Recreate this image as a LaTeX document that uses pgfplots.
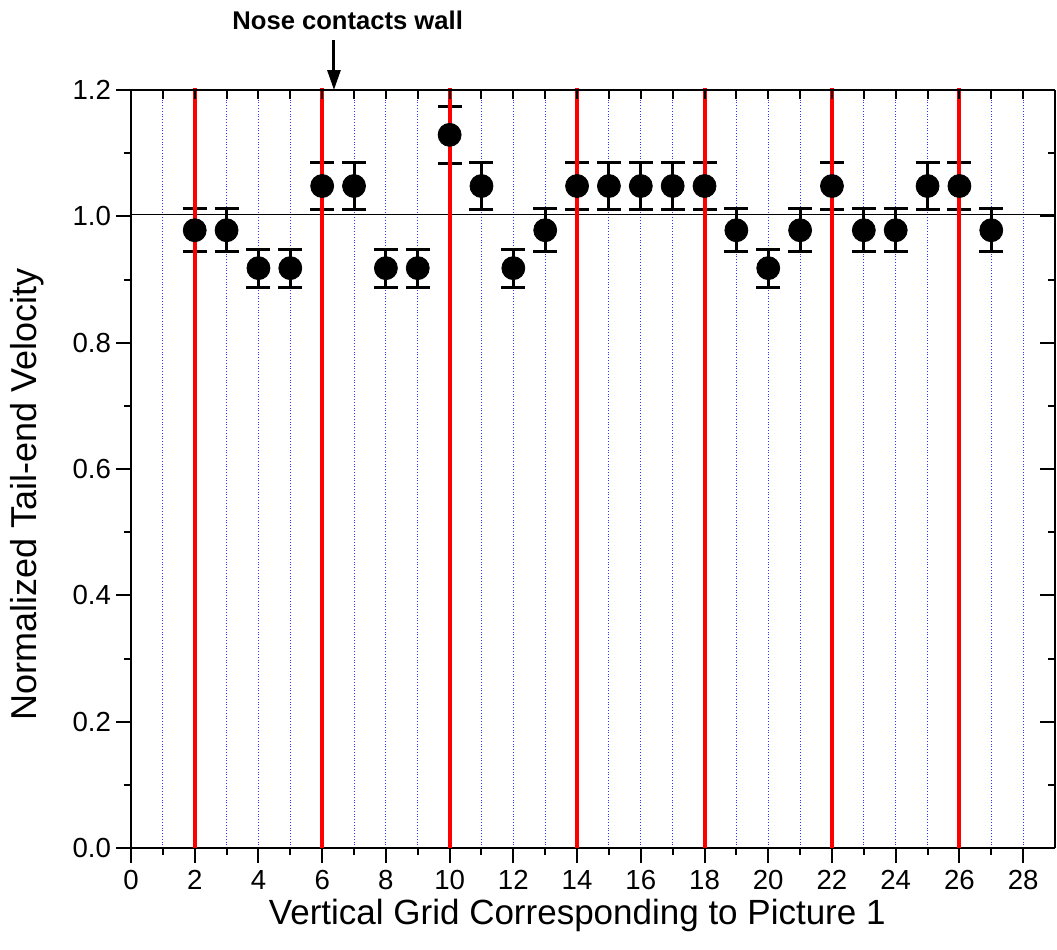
\documentclass[border=0pt]{standalone}
\usepackage{fontspec}
\setmainfont{Liberation Sans}
\usepackage{pgfplots}
\pgfplotsset{compat=1.18}
\usepackage{pgfplotstable}
\usetikzlibrary{arrows.meta}

% normalized tail-end velocity with error bars
\pgfplotstableread{
x   y      e
2   0.978  0.034
3   0.978  0.034
4   0.918  0.030
5   0.918  0.030
6   1.048  0.037
7   1.048  0.037
8   0.918  0.030
9   0.918  0.030
10  1.129  0.045
11  1.048  0.037
12  0.918  0.030
13  0.978  0.034
14  1.048  0.037
15  1.048  0.037
16  1.048  0.037
17  1.048  0.037
18  1.048  0.037
19  0.978  0.034
20  0.918  0.030
21  0.978  0.034
22  1.048  0.037
23  0.978  0.034
24  0.978  0.034
25  1.048  0.037
26  1.048  0.037
27  0.978  0.034
}\velo

\begin{document}
\begin{tikzpicture}
\pgfplotsset{
    common/.style={
        width=462pt, height=379pt, scale only axis,
        xmin=0, xmax=29, ymin=0, ymax=1.2,
        axis line style={line width=1pt},
        every tick/.style={black, line width=1pt},
    }
}
    \begin{axis}[
        common,
        axis x line*=bottom,
        axis y line*=left,
        tick align=outside,
        xtick={0,2,...,28},
        minor x tick num=1,
        ytick={0,0.2,...,1.2},
        minor y tick num=1,
        major tick length=7.5pt,
        minor tick length=3.5pt,
        xmajorgrids, xminorgrids,
        major grid style={blue!80, densely dotted, line width=0.5pt},
        minor grid style={blue!80, densely dotted, line width=0.5pt},
        /pgf/number format/assume math mode=true,
        tick label style={font=\fontsize{13.8}{16}\selectfont},
        y tick label style={xshift=1pt, /pgf/number format/.cd, fixed, fixed zerofill, precision=1},
        xlabel={Vertical Grid Corresponding to Picture 1},
        ylabel={Normalized Tail-end Velocity},
        label style={font=\fontsize{17.5}{21}\selectfont},
        ylabel style={font=\fontsize{18}{21}\selectfont},
        xlabel style={at={(rel axis cs:0.483,0)}, anchor=center, yshift=-33.5pt},
        ylabel style={at={([xshift=-52pt]rel axis cs:0,0.467)}, anchor=center},
        clip=false,
    ]
        \coordinate (BL) at (rel axis cs:0,0);
        \coordinate (TR) at (rel axis cs:1,1);

        % reference line
        \addplot[black, line width=0.5pt] coordinates {(0,1.003) (29,1.003)};

        \addplot[
            only marks, black,
            mark=*, mark size=5.75pt,
            error bars/.cd,
                y dir=both, y explicit,
                error bar style={line width=1.5pt},
                error mark options={rotate=90, mark size=6pt, line width=1.5pt},
        ] table[x=x, y=y, y error=e] {\velo};

        % red markers every 4 grids
        \addplot[red, line width=2pt] coordinates {(2,0) (2,1.203)};
        \addplot[red, line width=2pt] coordinates {(6,0) (6,1.203)};
        \addplot[red, line width=2pt] coordinates {(10,0) (10,1.203)};
        \addplot[red, line width=2pt] coordinates {(14,0) (14,1.203)};
        \addplot[red, line width=2pt] coordinates {(18,0) (18,1.203)};
        \addplot[red, line width=2pt] coordinates {(22,0) (22,1.203)};
        \addplot[red, line width=2pt] coordinates {(26,0) (26,1.203)};

        \draw[line width=1.5pt, -{Triangle[length=10pt, width=6.5pt]}]
            ([yshift=25pt]axis cs:6.37,1.2) -- (axis cs:6.37,1.2);
        \node[font=\bfseries\fontsize{12.8}{15}\selectfont]
            at ([yshift=35pt]axis cs:6.8,1.2) {Nose contacts wall};
    \end{axis}

    % top axis, inward ticks
    \begin{axis}[
        common,
        axis x line*=top,
        axis y line*=right,
        tick align=inside,
        xtick={1,...,28},
        ytick=\empty,
        major tick length=4.5pt,
        xticklabels={},
    ]
    \end{axis}

    % right axis, inward ticks
    \begin{axis}[
        common,
        axis x line*=top,
        axis y line*=right,
        tick align=inside,
        xtick=\empty,
        ytick={0,0.2,...,1.2},
        minor y tick num=1,
        major tick length=7.5pt,
        minor tick length=3.5pt,
        yticklabels={},
    ]
    \end{axis}

    \pgfresetboundingbox
    \path[use as bounding box] ([shift={(-65.5pt,-50.5pt)}]BL) rectangle ([shift={(1pt,45pt)}]TR);
\end{tikzpicture}
\end{document}
